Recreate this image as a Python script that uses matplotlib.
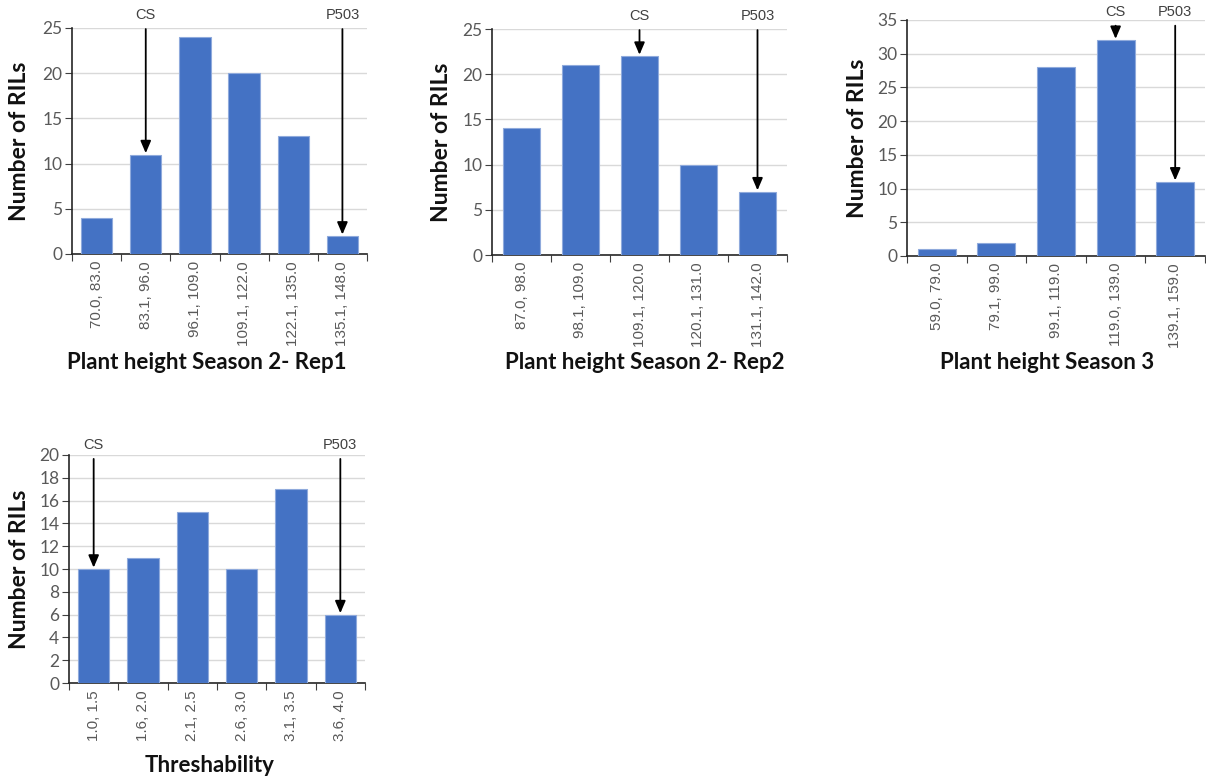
import matplotlib
import matplotlib.pyplot as plt

matplotlib.use("Agg")

plt.rcParams["font.family"] = ["Lato", "DejaVu Sans"]

DPI = 100
FIGSIZE = (1206 / DPI, 778 / DPI)
BAR_COLOR = "#4472C4"
TICK_COLOR = "#595959"

# データ
ph_rep1_bins = ["70.0, 83.0", "83.1, 96.0", "96.1, 109.0", "109.1, 122.0", "122.1, 135.0", "135.1, 148.0"]
ph_rep1_counts = [4, 11, 24, 20, 13, 2]

ph_rep2_bins = ["87.0, 98.0", "98.1, 109.0", "109.1, 120.0", "120.1, 131.0", "131.1, 142.0"]
ph_rep2_counts = [14, 21, 22, 10, 7]

ph_s3_bins = ["59.0, 79.0", "79.1, 99.0", "99.1, 119.0", "119.0, 139.0", "139.1, 159.0"]
ph_s3_counts = [1, 2, 28, 32, 11]

thr_bins = ["1.0, 1.5", "1.6, 2.0", "2.1, 2.5", "2.6, 3.0", "3.1, 3.5", "3.6, 4.0"]
thr_counts = [10, 11, 15, 10, 17, 6]

# (bins, counts, xlabel, ymax, ystep, CSの位置, P503の位置)
panels = [
    (ph_rep1_bins, ph_rep1_counts, "Plant height Season 2- Rep1", 25, 5, 1, 5),
    (ph_rep2_bins, ph_rep2_counts, "Plant height Season 2- Rep2", 25, 5, 2, 4),
    (ph_s3_bins, ph_s3_counts, "Plant height Season 3", 35, 5, 3, 4),
    (thr_bins, thr_counts, "Threshability", 20, 2, 0, 5),
]

# 位置（px）: left, top, right, bottom / ylabel x / xlabel (x, y) / 注釈の高さ
layout = [
    ((72, 28, 367, 254), 20, (207, 362), 1.057),
    ((492, 29, 787, 255), 442, (645, 362), 1.057),
    ((907, 20, 1205, 256), 857, (1047, 362), 1.035),
    ((69, 455, 365, 683), 20, (210, 765), 1.044),
]

W, H = 1206, 778
fig = plt.figure(figsize=FIGSIZE, dpi=DPI)

for (bins, counts, xlabel, ymax, ystep, cs_idx, p_idx), (box, ylab_x, xlab_pos, ann_y) in zip(panels, layout):
    l, t, r, b = box
    ax = fig.add_axes([l / W, 1 - b / H, (r - l) / W, (b - t) / H])
    x = list(range(len(bins)))
    ax.bar(x, counts, width=0.64, color=BAR_COLOR, edgecolor="#8FAADC", linewidth=0.8, zorder=3)

    ax.set_xlim(-0.5, len(bins) - 0.5)
    ax.set_ylim(0, ymax)
    ax.set_yticks(range(0, ymax + 1, ystep))
    ax.yaxis.grid(True, color="#D9D9D9", linewidth=1, zorder=0)
    ax.set_axisbelow(True)

    # カテゴリ境界に目盛り、ラベルは中央
    ax.set_xticks([i - 0.5 for i in range(len(bins) + 1)])
    ax.set_xticklabels([])
    ax.set_xticks(x, minor=True)
    ax.set_xticklabels(bins, minor=True, rotation=90, fontsize=11, color=TICK_COLOR,
                       family=["Liberation Sans", "DejaVu Sans"])
    ax.tick_params(axis="x", which="minor", length=0, pad=5)
    ax.tick_params(axis="x", which="major", length=5, direction="out", color="#404040")
    ax.tick_params(axis="y", length=5, direction="out", color="#404040", labelsize=12.5,
                   labelcolor=TICK_COLOR, pad=2)

    for side in ("top", "right"):
        ax.spines[side].set_visible(False)
    for side in ("left", "bottom"):
        ax.spines[side].set_color("#262626")
        ax.spines[side].set_linewidth(1.2)

    # 親系統の矢印
    for label, idx in (("CS", cs_idx), ("P503", p_idx)):
        ax.annotate(
            label,
            xy=(idx, counts[idx]),
            xycoords="data",
            xytext=(idx, ann_y),
            textcoords=ax.get_xaxis_transform(),
            ha="center",
            va="center",
            fontsize=10.5,
            color="#404040",
            family=["Liberation Sans Narrow", "Liberation Sans", "DejaVu Sans"],
            arrowprops=dict(arrowstyle="-|>,head_length=0.7,head_width=0.3", color="black",
                            lw=1.3, shrinkA=3, shrinkB=1),
            annotation_clip=False,
            zorder=5,
        )

    fig.text(ylab_x / W, 1 - ((t + b) / 2) / H, "Number of RILs", rotation=90,
             ha="center", va="center", fontsize=16.5, fontweight="bold", color="#111111")
    fig.text(xlab_pos[0] / W, 1 - xlab_pos[1] / H, xlabel, ha="center", va="center",
             fontsize=16, fontweight="bold", color="#111111")

fig.savefig("out.png", dpi=DPI)
plt.close(fig)
